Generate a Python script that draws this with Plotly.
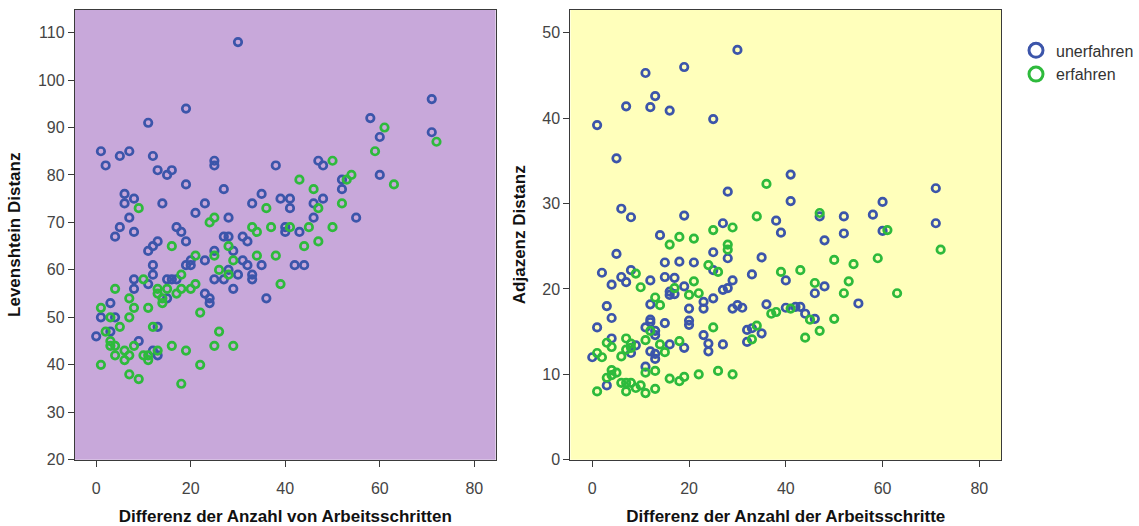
import plotly.graph_objects as go

# ---------------- Left panel: Levenshtein Distanz ----------------
lev_unerf_x = [30,19,11,1,2,5,7,12,13,15,16,19,25,25,27,6,6,8,14,7,5,4,8,17,18,19,21,23,28,27,28,31,32,33,35,38,39,
               11,12,13,25,29,23,31,32,35,12,12,19,20,20,8,8,11,15,16,17,25,27,28,30,33,33,29,36,15,23,24,24,3,1,4,3,0,9,12,13,13,
               71,71,58,60,60,47,48,52,52,41,41,46,48,46,55,40,40,43,42,44]
lev_unerf_y = [108,94,91,85,82,84,85,84,81,80,81,78,83,82,77,76,74,75,74,71,69,67,68,69,68,66,72,74,71,67,67,67,66,74,76,82,75,
               64,65,66,64,64,62,62,61,61,61,59,61,61,62,58,56,57,58,58,58,58,58,60,59,59,58,56,54,54,55,54,53,53,50,50,47,46,45,43,42,48,
               96,89,92,88,80,83,82,79,77,75,73,74,75,71,71,69,68,68,61,61]

lev_erf_x = [9,24,25,33,34,36,37,16,28,21,25,26,28,29,34,38,18,10,39,4,7,8,11,13,13,14,14,15,17,18,20,21,22,1,3,7,5,2,3,3,4,4,6,6,7,8,10,11,11,13,12,16,19,25,26,29,22,1,7,9,18,
             72,61,59,63,50,43,53,54,46,47,52,41,45,50,44,47]
lev_erf_y = [73,70,71,69,68,73,69,65,65,63,63,60,59,62,63,63,59,58,57,56,54,52,52,56,55,54,53,56,55,56,56,57,51,52,50,50,48,47,45,44,44,42,43,41,42,44,42,42,41,43,48,44,43,44,47,44,40,40,38,37,36,
             87,90,85,78,83,79,79,80,77,73,74,69,69,69,65,66]

# ---------------- Right panel: Adjazenz Distanz ----------------
adj_unerf_x = [30,19,11,13,7,12,16,25,1,5,28,6,8,19,14,27,38,39,41,41,71,71,60,58,60,47,52,52,48,40,46,48,55,40,42,43,44,46,35,35,36,
               5,25,28,2,6,8,4,7,12,15,18,21,15,17,25,29,28,27,33,19,16,16,17,12,23,23,25,20,3,4,1,12,12,11,13,13,15,20,20,29,30,31,
               23,24,24,27,32,33,32,16,19,4,9,8,12,13,13,0,11,3]
adj_unerf_y = [48.0,46.0,45.3,42.6,41.4,41.3,40.9,39.9,39.2,35.3,31.4,29.4,28.4,28.6,26.3,27.7,28.0,26.6,33.4,30.3,31.8,27.7,30.2,28.7,26.8,28.5,28.5,26.5,25.7,21.0,19.5,20.3,18.3,17.8,17.9,17.9,17.1,16.5,23.7,14.8,18.2,
               24.1,24.3,23.6,21.9,21.4,22.2,20.5,20.8,21.0,23.1,23.2,23.1,21.4,21.3,22.2,21.0,20.1,19.9,21.7,20.3,19.7,19.3,19.4,18.2,18.5,17.7,18.9,17.7,18.0,16.6,15.5,16.4,16.1,15.5,15.1,14.6,16.0,16.3,15.8,17.7,18.1,17.8,
               14.6,13.6,12.7,13.5,15.2,15.4,13.8,13.5,13.1,14.2,13.4,12.5,12.7,11.8,12.4,12.0,10.9,8.7]

adj_erf_x = [36,34,29,25,18,16,21,28,28,47,61,72,50,54,59,39,43,46,53,52,63,41,45,50,47,44,37,38,
             24,26,9,10,21,17,13,14,20,22,12,25,34,33,18,14,15,11,3,4,7,8,8,7,6,1,2,11,13,4,5,3,4,6,7,8,7,9,10,11,13,1,16,18,19,22,26,29]
adj_erf_y = [32.3,28.5,27.2,26.9,26.1,25.2,25.9,25.2,24.6,28.9,26.9,24.6,23.4,22.9,23.6,22.0,22.2,20.7,20.9,19.5,19.5,17.7,16.4,16.5,15.1,14.3,17.1,17.3,
             22.8,22.0,21.8,20.2,20.9,20.1,19.0,18.1,19.3,19.5,15.1,15.5,15.7,14.1,13.9,13.5,12.6,14.0,13.7,13.2,14.2,13.6,13.1,12.9,12.1,12.5,12.0,10.2,10.4,10.5,10.2,9.6,9.9,9.0,9.0,9.0,8.0,8.4,8.7,7.8,8.3,8.0,9.5,9.2,9.7,10.0,10.4,10.0]

labels = ["unerfahren", "erfahren"]
BLUE = "#3C55AA"
GREEN = "#2EBA3C"

marker_kw = dict(symbol="circle-open", size=7.5, line=dict(width=2.7))

fig = go.Figure()
fig.add_trace(go.Scatter(x=lev_unerf_x, y=lev_unerf_y, mode="markers", xaxis="x", yaxis="y",
                         marker=dict(color=BLUE, **marker_kw), showlegend=False))
fig.add_trace(go.Scatter(x=lev_erf_x, y=lev_erf_y, mode="markers", xaxis="x", yaxis="y",
                         marker=dict(color=GREEN, **marker_kw), showlegend=False))
fig.add_trace(go.Scatter(x=adj_unerf_x, y=adj_unerf_y, mode="markers", xaxis="x2", yaxis="y2",
                         marker=dict(color=BLUE, **marker_kw), showlegend=False))
fig.add_trace(go.Scatter(x=adj_erf_x, y=adj_erf_y, mode="markers", xaxis="x2", yaxis="y2",
                         marker=dict(color=GREEN, **marker_kw), showlegend=False))
# legend entries
for name, col in zip(labels, [BLUE, GREEN]):
    fig.add_trace(go.Scatter(x=[None], y=[None], mode="markers", name=name, xaxis="x2", yaxis="y2",
                             marker=dict(color=col, symbol="circle-open", size=14, line=dict(width=3))))

W, H = 1139, 526
def xd(a, b):
    return [a / W, b / W]
def yd(top, bottom):
    return [1 - bottom / H, 1 - top / H]

axis_common = dict(showgrid=False, zeroline=False, showline=True, linecolor="#3a3a3a", linewidth=1.3,
                   mirror=True, ticks="outside", ticklen=6, tickwidth=1.3, tickcolor="#3a3a3a",
                   tickfont=dict(family="Liberation Sans, Arial", size=16, color="#444444"))
title_font = dict(family="Liberation Sans, Arial", size=17, color="#111111")

fig.update_layout(
    width=W, height=H,
    margin=dict(l=0, r=0, t=0, b=0),
    paper_bgcolor="white",
    plot_bgcolor="white",
    showlegend=True,
    legend=dict(x=1017 / W, y=1 - 34 / H, xanchor="left", yanchor="top",
                font=dict(family="Liberation Sans, Arial", size=16, color="#333333"),
                itemwidth=30, tracegroupgap=0, bgcolor="rgba(0,0,0,0)"),
    xaxis=dict(domain=xd(75, 496), range=[-4.5, 84.5], tickvals=[0, 20, 40, 60, 80], anchor="y",
               ticklabelstandoff=8,
               title=dict(text="<b>Differenz der Anzahl von Arbeitsschritten</b>", font=title_font, standoff=14),
               **axis_common),
    yaxis=dict(domain=yd(10, 467.7), range=[20, 114.8], tickvals=[20, 30, 40, 50, 60, 70, 80, 90, 100, 110], anchor="x",
               title=dict(text="<b>Levenshtein Distanz</b>", font=title_font, standoff=12),
               **axis_common),
    xaxis2=dict(domain=xd(571, 1002), range=[-4.5, 84.5], tickvals=[0, 20, 40, 60, 80], anchor="y2",
                ticklabelstandoff=8,
                title=dict(text="<b>Differenz der Anzahl der Arbeitsschritte</b>", font=title_font, standoff=14),
                **axis_common),
    yaxis2=dict(domain=yd(10, 467.7), range=[0, 52.7], tickvals=[0, 10, 20, 30, 40, 50], anchor="x2",
                title=dict(text="<b>Adjazenz Distanz</b>", font=title_font, standoff=12),
                **axis_common),
    shapes=[
        dict(type="rect", xref="x domain", yref="y domain", x0=0, x1=1, y0=0, y1=1,
             fillcolor="#C8A8DA", line=dict(width=0), layer="below"),
        dict(type="rect", xref="x2 domain", yref="y2 domain", x0=0, x1=1, y0=0, y1=1,
             fillcolor="#FFFFBB", line=dict(width=0), layer="below"),
    ],
)

fig.write_html("out.html")
